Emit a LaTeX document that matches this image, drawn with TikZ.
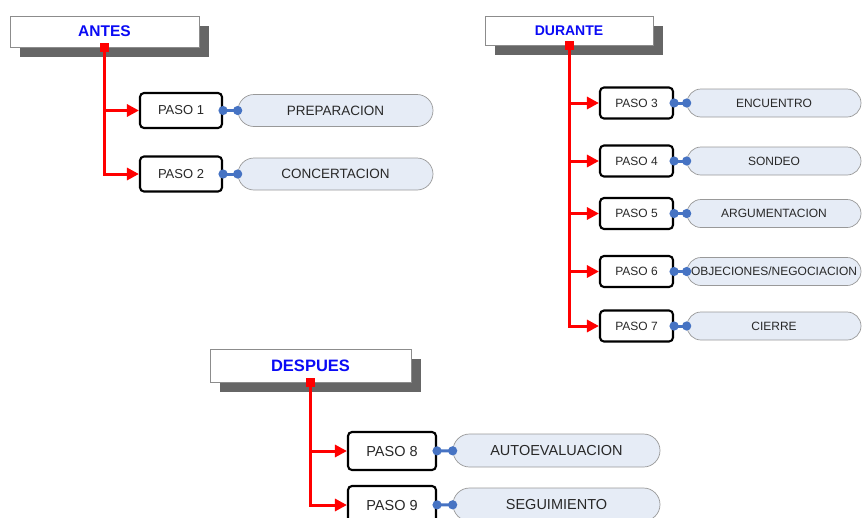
\documentclass[tikz,border=0pt]{standalone}
\usepackage{fontspec}
\setmainfont{Liberation Sans}
\usetikzlibrary{arrows.meta,shadows}
\definecolor{titulo}{RGB}{10,10,245}
\definecolor{enlazul}{RGB}{70,115,195}
\definecolor{pildora}{RGB}{230,236,246}
\definecolor{texto}{RGB}{40,40,40}

\begin{document}
\begin{tikzpicture}[x=1pt,y=-1pt,
    fase/.style={draw=black!45,fill=white,line width=0.6pt,inner sep=0pt,
      text=titulo,font=\bfseries,
      drop shadow={shadow xshift=10pt,shadow yshift=-10pt,fill=black!60,opacity=1}},
    marca/.style={fill=red,inner sep=0pt,minimum size=9pt},
    paso/.style={draw=black,line width=2.1pt,rounded corners=4pt,fill=white,
      inner sep=0pt,text=texto},
    pildora/.style={draw=black!40,line width=0.7pt,fill=pildora,rounded corners=14pt,
      inner sep=0pt,text=texto},
    rama/.style={draw=red,line width=3pt,-{Triangle[length=12pt,width=12pt]}},
    enlace/.style={draw=enlazul,line width=3pt,
      {Circle[length=9pt]}-{Circle[length=9pt]},shorten <=-4.5pt,shorten >=-4.5pt}]
  \useasboundingbox (0,0) rectangle (866,517);

  % ANTES
  \node [fase,minimum width=189pt,minimum height=31pt,font=\fontsize{15.5}{18}\bfseries] (antes) at (104.5,31.5) {ANTES};
  \node [paso,minimum width=82pt,minimum height=35pt,font=\fontsize{13}{15}\selectfont] (paso1) at (181,110.5) {PASO 1};
  \node [paso,minimum width=82pt,minimum height=35pt,font=\fontsize{13}{15}\selectfont] (paso2) at (181,174) {PASO 2};
  \node [pildora,minimum width=195pt,minimum height=32pt,rounded corners=16pt,font=\fontsize{13.5}{15}\selectfont] (prep) at (335.5,110.5) {PREPARACION};
  \node [pildora,minimum width=195pt,minimum height=32pt,rounded corners=16pt,font=\fontsize{13.5}{15}\selectfont] (conc) at (335.5,174) {CONCERTACION};
  \draw [rama] (antes.south) |- (paso1);
  \draw [rama] (antes.south) |- (paso2);
  \node [marca] (antesm) at (antes.south) {};
  \draw [enlace] (paso1) -- (prep);
  \draw [enlace] (paso2) -- (conc);

  % DURANTE
  \node [fase,minimum width=168pt,minimum height=29pt,font=\fontsize{14}{17}\bfseries] (durante) at (569,30.5) {DURANTE};
  \foreach \n/\y/\txt in {3/103/ENCUENTRO,4/161/SONDEO,5/213.5/ARGUMENTACION,6/271.5/{OBJECIONES/NEGOCIACION},7/326/CIERRE}{
    \node [paso,minimum width=73pt,minimum height=31pt,font=\fontsize{12}{14}\selectfont] (paso\n) at (636.5,\y) {PASO \n};
    \node [pildora,minimum width=174pt,minimum height=28pt,font=\fontsize{12}{14}\selectfont] (etapa\n) at (774,\y) {\txt};
    \draw [rama] (durante.south) |- (paso\n);
    \draw [enlace] (paso\n) -- (etapa\n);
  }
  \node [marca] (durantem) at (durante.south) {};

  % DESPUES
  \node [fase,minimum width=201pt,minimum height=33pt,font=\fontsize{16.5}{19}\bfseries] (despues) at (310.5,365.5) {DESPUES};
  \node [paso,minimum width=88pt,minimum height=38pt,font=\fontsize{14.5}{17}\selectfont] (paso8) at (392,451) {PASO 8};
  \node [paso,minimum width=88pt,minimum height=38pt,font=\fontsize{14.5}{17}\selectfont] (paso9) at (392,505) {PASO 9};
  \node [pildora,minimum width=207pt,minimum height=33pt,rounded corners=16.5pt,font=\fontsize{14.5}{17}\selectfont] (autoev) at (556.5,450.5) {AUTOEVALUACION};
  \node [pildora,minimum width=207pt,minimum height=33pt,rounded corners=16.5pt,font=\fontsize{14.5}{17}\selectfont] (segui) at (556.5,504.5) {SEGUIMIENTO};
  \draw [rama] (despues.south) |- (paso8);
  \draw [rama] (despues.south) |- (paso9);
  \node [marca] (despuesm) at (despues.south) {};
  \draw [enlace] (paso8) -- (autoev);
  \draw [enlace] (paso9) -- (segui);
\end{tikzpicture}
\end{document}
